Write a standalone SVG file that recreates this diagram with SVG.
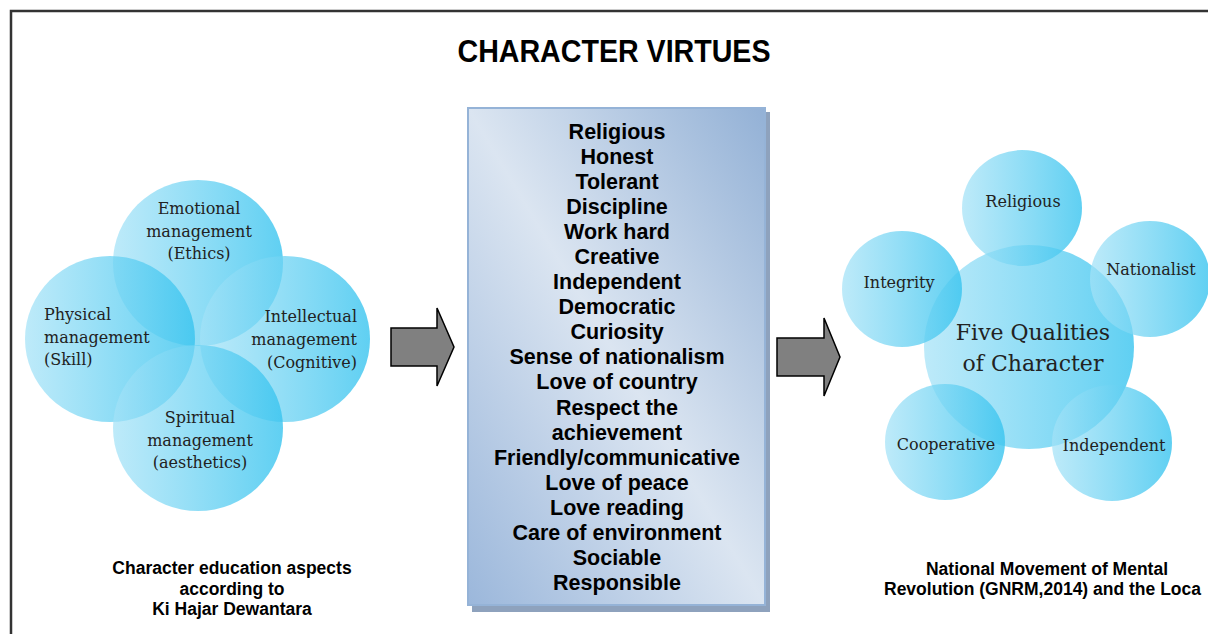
<svg xmlns="http://www.w3.org/2000/svg" width="1208" height="634" viewBox="0 0 1208 634">
<defs>
<linearGradient id="cg" x1="0" y1="0" x2="1" y2="0">
<stop offset="0" stop-color="#a4e2f7" stop-opacity="0.72"/>
<stop offset="1" stop-color="#38c4ef" stop-opacity="0.8"/>
</linearGradient>
<linearGradient id="bg" x1="1" y1="0" x2="0" y2="1">
<stop offset="0" stop-color="#93b1d6"/>
<stop offset="0.5" stop-color="#dbe5f1"/>
<stop offset="1" stop-color="#9bb7db"/>
</linearGradient>
<style>
.c{fill:url(#cg);}
.s{font-family:"DejaVu Serif","Liberation Serif",serif;font-size:16px;fill:#222;}
.big{font-size:22px;}
.b{font-family:"Liberation Sans",Arial,sans-serif;font-weight:bold;font-size:21.5px;fill:#000;text-anchor:middle;}
.cap{font-family:"Liberation Sans",Arial,sans-serif;font-weight:bold;font-size:17.5px;fill:#000;}
.arr{fill:#808080;stroke:#000;stroke-width:1.5;stroke-linejoin:miter;}
</style>
</defs>
<rect width="1208" height="634" fill="#fff"/>
<path d="M11,634 V11 H1208" fill="none" stroke="#333" stroke-width="2.5"/>
<text x="614" y="62" font-family="'Liberation Sans Narrow','Liberation Sans',sans-serif" font-weight="bold" font-size="31" text-anchor="middle" textLength="313" lengthAdjust="spacingAndGlyphs">CHARACTER VIRTUES</text>

<g id="left-diagram">
<g id="emotional"><ellipse class="c" cx="198" cy="263" rx="85" ry="83"/></g>
<g id="physical"><ellipse class="c" cx="110" cy="339" rx="85" ry="83"/></g>
<g id="intellectual"><ellipse class="c" cx="285" cy="339" rx="85" ry="83"/></g>
<g id="spiritual"><ellipse class="c" cx="198" cy="428" rx="85" ry="83"/></g>
<text class="s" text-anchor="middle"><tspan x="199" y="214">Emotional</tspan><tspan x="199" y="237">management</tspan><tspan x="199" y="259">(Ethics)</tspan></text>
<text class="s"><tspan x="44" y="320">Physical</tspan><tspan x="44" y="343">management</tspan><tspan x="44" y="365">(Skill)</tspan></text>
<text class="s" text-anchor="end"><tspan x="357" y="322">Intellectual</tspan><tspan x="357" y="345">management</tspan><tspan x="357" y="368">(Cognitive)</tspan></text>
<text class="s" text-anchor="middle"><tspan x="200" y="423">Spiritual</tspan><tspan x="200" y="446">management</tspan><tspan x="200" y="468">(aesthetics)</tspan></text>
</g>

<g id="connectors">
<polygon class="arr" points="391,328 437,328 437,308 454,347 437,386 437,366 391,366"/>
<polygon class="arr" points="777,338 824,338 824,318 840,357 824,396 824,376 777,376"/>
</g>

<g id="virtues-box">
<rect x="472" y="112" width="298" height="500" fill="#8ea2bd"/>
<rect x="468" y="108" width="297" height="497" fill="url(#bg)" stroke="#95b3d7" stroke-width="2"/>
<text class="b"><tspan x="617" y="139">Religious</tspan><tspan x="617" y="164">Honest</tspan><tspan x="617" y="189">Tolerant</tspan><tspan x="617" y="214">Discipline</tspan><tspan x="617" y="239">Work hard</tspan><tspan x="617" y="264">Creative</tspan><tspan x="617" y="289">Independent</tspan><tspan x="617" y="314">Democratic</tspan><tspan x="617" y="339">Curiosity</tspan><tspan x="617" y="364">Sense of nationalism</tspan><tspan x="617" y="389">Love of country</tspan><tspan x="617" y="415">Respect the</tspan><tspan x="617" y="440">achievement</tspan><tspan x="617" y="465">Friendly/communicative</tspan><tspan x="617" y="490">Love of peace</tspan><tspan x="617" y="515">Love reading</tspan><tspan x="617" y="540">Care of environment</tspan><tspan x="617" y="565">Sociable</tspan><tspan x="617" y="590">Responsible</tspan></text>
</g>

<g id="right-diagram">
<g id="center"><ellipse class="c" cx="1029" cy="347" rx="105" ry="102"/></g>
<g id="religious"><ellipse class="c" cx="1022" cy="208" rx="60" ry="58"/></g>
<g id="integrity"><ellipse class="c" cx="902" cy="289" rx="60" ry="58"/></g>
<g id="nationalist"><ellipse class="c" cx="1150" cy="279" rx="60" ry="58"/></g>
<g id="cooperative"><ellipse class="c" cx="945" cy="442" rx="60" ry="58"/></g>
<g id="independent"><ellipse class="c" cx="1112" cy="443" rx="60" ry="58"/></g>
<text class="s" text-anchor="middle" x="1023" y="207">Religious</text>
<text class="s" text-anchor="middle" x="899" y="288">Integrity</text>
<text class="s" text-anchor="middle" x="1151" y="275">Nationalist</text>
<text class="s" text-anchor="middle" x="946" y="450">Cooperative</text>
<text class="s" text-anchor="middle" x="1114" y="451">Independent</text>
<text class="s big" text-anchor="middle"><tspan x="1033" y="340">Five Qualities</tspan><tspan x="1033" y="371">of Character</tspan></text>
</g>

<g id="captions">
<text class="cap" text-anchor="middle"><tspan x="232" y="574">Character education aspects</tspan><tspan x="232" y="595">according to</tspan><tspan x="232" y="615">Ki Hajar Dewantara</tspan></text>
<text class="cap"><tspan x="1047" y="575" text-anchor="middle">National Movement of Mental</tspan><tspan x="884" y="595">Revolution (GNRM,2014) and the Loca</tspan></text>
</g>
</svg>
